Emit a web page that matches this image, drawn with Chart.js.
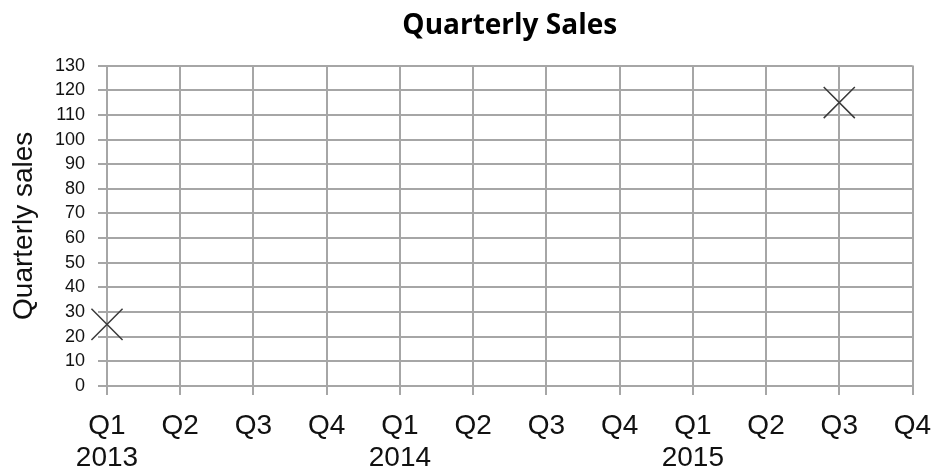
<!DOCTYPE html>
<html>
<head>
<meta charset="utf-8">
<script src="https://cdn.jsdelivr.net/npm/chart.js@4.4.1/dist/chart.umd.min.js"></script>
<style>
    html, body { margin: 0; padding: 0; background: #fff; }
    #wrap { width: 936px; height: 469px; }
</style>
</head>
<body>
<div id="wrap"><canvas id="sales-chart" width="936" height="469"></canvas></div>
<script>
const quarters = ['Q1', 'Q2', 'Q3', 'Q4', 'Q1', 'Q2', 'Q3', 'Q4', 'Q1', 'Q2', 'Q3', 'Q4'];
const years = ['2013', '', '', '', '2014', '', '', '', '2015', '', '', ''];
const salesValues = [25, null, null, null, null, null, null, null, null, null, 115, null];
const yMin = 0;
const yMax = 130;
const yStep = 10;

document.addEventListener('DOMContentLoaded', function () {
    const ctx = document.getElementById('sales-chart');

    // two-line labels: quarter on top, year below the first quarter
    const chartLabels = quarters.map(function (q, i) {
        return years[i] ? [q, years[i]] : q;
    });

    const gridColor = '#a6a6a6';

    new Chart(ctx, {
        type: 'line',
        data: {
            labels: chartLabels,
            datasets: [{
                label: 'Quarterly sales',
                data: salesValues,
                showLine: false,
                pointStyle: 'crossRot',
                pointRadius: 22,
                pointHoverRadius: 22,
                pointBorderWidth: 1.5,
                borderColor: '#3a3a3a',
                backgroundColor: '#3a3a3a'
            }]
        },
        options: {
            responsive: false,
            animation: false,
            layout: {
                padding: { left: 0, right: 21, top: 0, bottom: 0 }
            },
            plugins: {
                legend: { display: false },
                tooltip: { enabled: false },
                title: {
                    display: true,
                    fullSize: false,
                    text: 'Quarterly Sales',
                    color: '#000',
                    font: { family: '"Open Sans", sans-serif', size: 28, weight: 'bold', lineHeight: 1.2 },
                    padding: { top: 9, bottom: 23 }
                }
            },
            scales: {
                x: {
                    offset: false,
                    grid: {
                        color: gridColor,
                        lineWidth: 2,
                        drawTicks: true,
                        tickLength: 9,
                        tickColor: gridColor
                    },
                    border: { color: gridColor, width: 2 },
                    ticks: {
                        autoSkip: false,
                        maxRotation: 0,
                        minRotation: 0,
                        padding: 15,
                        color: '#111',
                        font: { family: '"Liberation Sans", Arial, sans-serif', size: 28, lineHeight: 1.15 }
                    },
                    afterFit: function (scale) {
                        scale.height = 83;
                        // edge labels may hang over, as in the original
                        scale.paddingLeft = 0;
                        scale.paddingRight = 0;
                    }
                },
                y: {
                    min: yMin,
                    max: yMax,
                    grid: {
                        color: gridColor,
                        lineWidth: 2,
                        drawTicks: true,
                        tickLength: 9,
                        tickColor: gridColor
                    },
                    border: { color: gridColor, width: 2 },
                    ticks: {
                        stepSize: yStep,
                        padding: 13,
                        color: '#111',
                        font: { family: '"Liberation Sans", Arial, sans-serif', size: 18 }
                    },
                    title: {
                        display: true,
                        text: 'Quarterly sales',
                        color: '#111',
                        font: { family: '"Liberation Sans", Arial, sans-serif', size: 28, lineHeight: 1.2 },
                        padding: { top: 7, bottom: 0 }
                    },
                    afterFit: function (scale) {
                        scale.width = 107;
                    }
                }
            }
        }
    });
});
</script>
</body>
</html>
